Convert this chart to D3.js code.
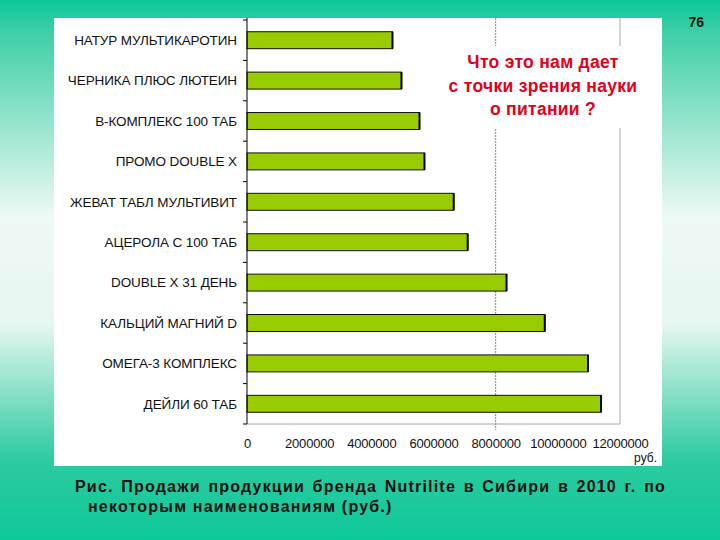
<!DOCTYPE html>
<html>
<head>
<meta charset="utf-8">
<script src="https://cdn.jsdelivr.net/npm/d3@7"></script>
<style>
  body { margin: 0; }
  svg { display: block; }
</style>
</head>
<body>
<div id="chart"></div>
<script>
// products, top to bottom
var products = [
  "НАТУР МУЛЬТИКАРОТИН",
  "ЧЕРНИКА ПЛЮС ЛЮТЕИН",
  "B-КОМПЛЕКС 100 ТАБ",
  "ПРОМО DOUBLE X",
  "ЖЕВАТ ТАБЛ МУЛЬТИВИТ",
  "АЦЕРОЛА С 100 ТАБ",
  "DOUBLE X 31 ДЕНЬ",
  "КАЛЬЦИЙ МАГНИЙ D",
  "ОМЕГА-3 КОМПЛЕКС",
  "ДЕЙЛИ 60 ТАБ"
];
// sales, rub.
var sales = [4680000, 4970000, 5550000, 5710000, 6650000, 7100000, 8350000, 9580000, 10970000, 11390000];
var xTicks = [0, 2000000, 4000000, 6000000, 8000000, 10000000, 12000000];
var noteLines = ["Что это нам дает", "с точки зрения науки", "о питании ?"];
var captionLines = [
  "Рис.  Продажи продукции бренда Nutrilite в Сибири в 2010 г. по",
  "некоторым наименованиям (руб.)"
];

var W = 720, H = 540;
var FONT = "Liberation Sans, Arial, sans-serif";
var svg = d3.select("#chart").append("svg").attr("width", W).attr("height", H);

var defs = svg.append("defs");
var bg = defs.append("linearGradient").attr("id", "bg").attr("x1", 0).attr("y1", 0).attr("x2", 0).attr("y2", 1);
bg.append("stop").attr("offset", "0%").attr("stop-color", "#0cc79a");
bg.append("stop").attr("offset", "6%").attr("stop-color", "#3fcfa6");
bg.append("stop").attr("offset", "40%").attr("stop-color", "#eef9f5");
bg.append("stop").attr("offset", "60%").attr("stop-color", "#e6f6f0");
bg.append("stop").attr("offset", "85%").attr("stop-color", "#2dcba0");
bg.append("stop").attr("offset", "100%").attr("stop-color", "#0dc89a");

svg.append("rect").attr("width", W).attr("height", H).attr("fill", "url(#bg)");

// white chart panel
svg.append("rect").attr("x", 54).attr("y", 18).attr("width", 608).attr("height", 448).attr("fill", "#ffffff");

var plotL = 247, plotR = 620, plotT = 18, plotB = 424;

var x = d3.scaleLinear().domain([0, 12000000]).range([plotL, plotR]);
var y = d3.scaleBand().domain(products).range([plotT + 2, plotB]).paddingInner(0.58).paddingOuter(0.29);

// plot frame (right and bottom)
svg.append("line").attr("x1", plotR).attr("x2", plotR).attr("y1", plotT).attr("y2", plotB)
  .attr("stroke", "#a8a8a8").attr("stroke-width", 1);
svg.append("line").attr("x1", plotL).attr("x2", plotR).attr("y1", plotB).attr("y2", plotB)
  .attr("stroke", "#a8a8a8").attr("stroke-width", 1);

// dashed gridline at 8 000 000
svg.append("line").attr("x1", x(8000000)).attr("x2", x(8000000)).attr("y1", plotT).attr("y2", plotB + 6)
  .attr("stroke", "#888").attr("stroke-width", 1).attr("stroke-dasharray", "2,1");

// bars
var bars = svg.append("g");
bars.selectAll(".bar")
  .data(sales)
  .enter()
  .append("rect")
  .attr("class", "bar")
  .attr("x", x(0))
  .attr("y", function (d, i) { return y(products[i]); })
  .attr("width", function (d) { return x(d) - x(0); })
  .attr("height", y.bandwidth())
  .attr("fill", "#99cc00")
  .attr("stroke", "#111")
  .attr("stroke-width", 1);
// darker right edge
bars.selectAll(".edge")
  .data(sales)
  .enter()
  .append("line")
  .attr("class", "edge")
  .attr("x1", function (d) { return x(d); })
  .attr("x2", function (d) { return x(d); })
  .attr("y1", function (d, i) { return y(products[i]); })
  .attr("y2", function (d, i) { return y(products[i]) + y.bandwidth(); })
  .attr("stroke", "#000")
  .attr("stroke-width", 2);

// y axis
var yAxis = svg.append("g")
  .attr("transform", "translate(" + plotL + ",0)");
yAxis.append("line").attr("x1", 0).attr("x2", 0).attr("y1", plotT).attr("y2", plotB).attr("stroke", "#000");
var bounds = d3.range(products.length + 1).map(function (i) { return plotT + 2 + (plotB - plotT - 2) * i / products.length; });
yAxis.selectAll(".tk").data(bounds).enter().append("line")
  .attr("x1", -4).attr("x2", 0).attr("y1", function (d) { return d; }).attr("y2", function (d) { return d; })
  .attr("stroke", "#000");
yAxis.selectAll(".lbl").data(products).enter().append("text")
  .attr("x", -10)
  .attr("y", function (d) { return y(d) + y.bandwidth() / 2; })
  .attr("dy", "0.35em")
  .attr("text-anchor", "end")
  .attr("font-family", FONT)
  .attr("font-size", 13.5)
  .attr("letter-spacing", -0.1)
  .attr("fill", "#111")
  .text(function (d) { return d; });

// x axis labels
var xAxis = d3.axisBottom(x).tickValues(xTicks).tickSize(0).tickFormat(d3.format("d"));
var xg = svg.append("g").attr("transform", "translate(0," + (plotB + 12) + ")").call(xAxis);
xg.select(".domain").remove();
xg.selectAll("text")
  .attr("font-family", FONT)
  .attr("font-size", 13)
  .attr("letter-spacing", -0.2)
  .attr("fill", "#111");
svg.append("text").attr("x", 657).attr("y", 462).attr("text-anchor", "end")
  .attr("font-family", FONT).attr("font-size", 12)
  .attr("fill", "#111").text("руб.");

// note box
svg.append("rect").attr("x", 432).attr("y", 46).attr("width", 220).attr("height", 82).attr("fill", "#fff");
svg.append("g").selectAll("text").data(noteLines).enter().append("text")
  .attr("x", 543)
  .attr("y", function (d, i) { return 68 + i * 23.5; })
  .attr("text-anchor", "middle")
  .attr("font-family", FONT)
  .attr("font-size", 17.5)
  .attr("font-weight", "bold")
  .attr("letter-spacing", 0.3)
  .attr("fill", "#e2001a")
  .text(function (d) { return d; });

// page number
svg.append("text").attr("x", 704).attr("y", 27).attr("text-anchor", "end")
  .attr("font-family", FONT).attr("font-size", 14).attr("font-weight", "bold")
  .attr("fill", "#111").text("76");

// caption, first line justified by word spacing
var cap1 = svg.append("text").attr("x", 75).attr("y", 492)
  .attr("font-family", FONT).attr("font-size", 16).attr("font-weight", "bold")
  .attr("fill", "#111")
  .attr("letter-spacing", 1.2)
  .text(captionLines[0]);
var gaps = captionLines[0].split(" ").length - 1;
var free = 593 - cap1.node().getComputedTextLength();
if (free > 0) cap1.attr("word-spacing", free / gaps);
svg.append("text").attr("x", 88).attr("y", 512)
  .attr("font-family", FONT).attr("font-size", 16).attr("font-weight", "bold")
  .attr("fill", "#111")
  .attr("letter-spacing", 1.2)
  .text(captionLines[1]);
</script>
</body>
</html>
